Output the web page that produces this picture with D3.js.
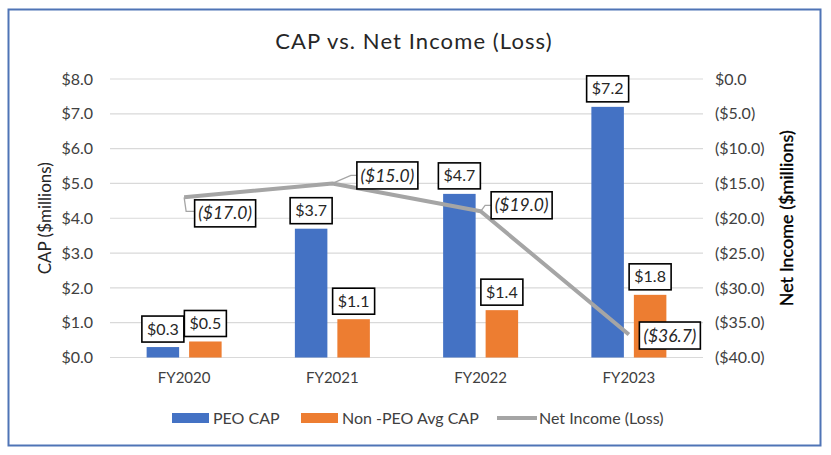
<!DOCTYPE html>
<html>
<head>
<meta charset="utf-8">
<script src="https://cdn.jsdelivr.net/npm/d3@7"></script>
<style>
  html, body { margin: 0; padding: 0; background: #fff; }
  svg { display: block; font-family: Lato, "Open Sans", sans-serif; }
</style>
</head>
<body>
<svg id="chart" width="831" height="455"></svg>
<script>
// data
const years = ["FY2020", "FY2021", "FY2022", "FY2023"];
const peoCap = [0.3, 3.7, 4.7, 7.2];
const nonPeoCap = [0.46, 1.1, 1.36, 1.8];
const netIncome = [-17.0, -15.0, -19.0, -36.7];
const capTicks = [0, 1, 2, 3, 4, 5, 6, 7, 8];
const incomeTicks = [0, -5, -10, -15, -20, -25, -30, -35, -40];
const seriesNames = ["PEO CAP", "Non -PEO Avg CAP", "Net Income (Loss)"];

const colors = { peo: "#4472C4", non: "#ED7D31", line: "#A5A5A5" };

const svg = d3.select("#chart");
const plot = { left: 110, right: 703, top: 79, bottom: 357.5 };

// outer frame
svg.append("rect")
    .attr("x", 8.5).attr("y", 9.5)
    .attr("width", 812).attr("height", 436)
    .attr("fill", "#fff")
    .attr("stroke", "#4F74B6")
    .attr("stroke-width", 2);

// title
svg.append("text")
    .attr("x", 414).attr("y", 49)
    .attr("text-anchor", "middle")
    .style("font-size", "22px")
    .style("letter-spacing", "1.1px")
    .style("fill", "#262626")
    .text("CAP vs. Net Income (Loss)");

let x = d3.scaleBand().domain(years).range([plot.left, plot.right]);
let bw = x.bandwidth();
let xs = d3.scaleBand().domain(["peo", "non"])
    .range([(bw - 75) / 2, (bw + 75) / 2])
    .paddingInner(0.235);

let yL = d3.scaleLinear().domain([0, 8]).range([plot.bottom, plot.top]);
let yR = d3.scaleLinear().domain([-40, 0]).range([plot.bottom, plot.top]);

const fmtCap = v => "$" + v.toFixed(1);
const fmtInc = v => v < 0 ? "($" + Math.abs(v).toFixed(1) + ")" : "$" + v.toFixed(1);

// gridlines
svg.append("g")
    .selectAll("line")
    .data(capTicks)
    .join("line")
    .attr("x1", plot.left).attr("x2", plot.right)
    .attr("y1", d => yL(d)).attr("y2", d => yL(d))
    .attr("stroke", "#D9D9D9")
    .attr("stroke-width", 1.2);

// left axis
const leftAxis = svg.append("g")
    .attr("transform", `translate(${plot.left},0)`)
    .call(d3.axisLeft(yL).tickValues(capTicks).tickFormat(fmtCap).tickSize(0).tickPadding(17));
leftAxis.select(".domain").remove();
leftAxis.selectAll("text").style("font-size", "16px").style("fill", "#404040").style("font-family", "Lato");

// right axis
const rightAxis = svg.append("g")
    .attr("transform", `translate(${plot.right},0)`)
    .call(d3.axisRight(yR).tickValues(incomeTicks).tickFormat(fmtInc).tickSize(0).tickPadding(12));
rightAxis.select(".domain").remove();
rightAxis.selectAll("text").style("font-size", "16px").style("fill", "#404040").style("font-family", "Lato");

// category axis
const bottomAxis = svg.append("g")
    .attr("transform", `translate(0,${plot.bottom})`)
    .call(d3.axisBottom(x).tickSize(0).tickPadding(15));
bottomAxis.select(".domain").remove();
bottomAxis.selectAll("text").style("font-size", "15px").style("fill", "#404040").style("font-family", "Lato");

// axis titles
svg.append("text")
    .attr("transform", `translate(51,${(plot.top + plot.bottom) / 2}) rotate(-90)`)
    .attr("text-anchor", "middle")
    .style("font-size", "17px")
    .style("fill", "#262626")
    .text("CAP ($millions)");

svg.append("text")
    .attr("transform", `translate(793,${(plot.top + plot.bottom) / 2}) rotate(-90)`)
    .attr("text-anchor", "middle")
    .style("font-size", "18px")
    .style("fill", "#000")
    .style("stroke", "#000")
    .style("stroke-width", 0.35)
    .text("Net Income ($millions)");

// bars
const rows = years.map((yr, i) => ({ year: yr, peo: peoCap[i], non: nonPeoCap[i], ni: netIncome[i] }));

const groups = svg.append("g")
    .selectAll("g")
    .data(rows)
    .join("g")
    .attr("transform", d => `translate(${x(d.year)},0)`);

const barData = d => [{ key: "peo", v: d.peo }, { key: "non", v: d.non }];

groups.selectAll("rect")
    .data(barData)
    .join("rect")
    .attr("x", d => xs(d.key))
    .attr("y", d => yL(d.v))
    .attr("width", xs.bandwidth())
    .attr("height", d => yL(0) - yL(d.v))
    .attr("fill", d => colors[d.key]);

// net income line
const line = d3.line()
    .x(d => x(d.year) + bw / 2)
    .y(d => yR(d.ni));

svg.append("path")
    .datum(rows)
    .attr("d", line)
    .attr("fill", "none")
    .attr("stroke", colors.line)
    .attr("stroke-width", 4)
    .attr("stroke-linejoin", "round");

// bar labels (boxed)
const barLabels = groups.selectAll("g.blabel")
    .data(barData)
    .join("g")
    .attr("class", "blabel")
    .attr("transform", d => `translate(${xs(d.key) + xs.bandwidth() / 2},${yL(d.v) - 18})`);

barLabels.append("rect")
    .attr("x", -21).attr("y", -13)
    .attr("width", 42).attr("height", 26)
    .attr("fill", "#fff")
    .attr("stroke", "#000")
    .attr("stroke-width", 1.6);

barLabels.append("text")
    .attr("dy", "0.35em")
    .attr("text-anchor", "middle")
    .style("font-size", "16px")
    .style("fill", "#262626")
    .text(d => fmtCap(d.v));

// line labels with leader lines: offsets of box centre from the point
const labelOffsets = [[41, 16], [55, -8], [41, -6], [41, 1]];

const niLabels = svg.append("g")
    .selectAll("g")
    .data(rows)
    .join("g")
    .attr("transform", d => `translate(${x(d.year) + bw / 2},${yR(d.ni)})`);

niLabels.append("path")
    .attr("d", (d, i) => {
        const [dx, dy] = labelOffsets[i];
        if (i === 3) return null;
        const bx = dx - 30.5;
        if (i === 0) return `M0,0 L2,${dy - 2} L${bx},${dy - 2}`;
        return `M0,0 L${bx - 6},${dy} L${bx},${dy}`;
    })
    .attr("fill", "none")
    .attr("stroke", colors.line)
    .attr("stroke-width", 1.3);

niLabels.append("rect")
    .attr("x", (d, i) => labelOffsets[i][0] - 30.5)
    .attr("y", (d, i) => labelOffsets[i][1] - 13.5)
    .attr("width", 61).attr("height", 27)
    .attr("fill", "#fff")
    .attr("stroke", "#000")
    .attr("stroke-width", 1.6);

niLabels.append("text")
    .attr("x", (d, i) => labelOffsets[i][0])
    .attr("y", (d, i) => labelOffsets[i][1])
    .attr("dy", "0.35em")
    .attr("text-anchor", "middle")
    .style("font-size", "17.5px")
    .style("font-style", "italic")
    .style("fill", "#262626")
    .text(d => fmtInc(d.ni));

// legend
const legendX = [172, 301, 497];
const legend = svg.append("g")
    .selectAll("g")
    .data(seriesNames)
    .join("g")
    .attr("transform", (d, i) => `translate(${legendX[i]},418)`);

legend.filter((d, i) => i < 2).append("rect")
    .attr("x", 0).attr("y", -5)
    .attr("width", 37).attr("height", 10)
    .attr("fill", (d, i) => i === 0 ? colors.peo : colors.non);

legend.filter((d, i) => i === 2).append("line")
    .attr("x1", 0).attr("x2", 40)
    .attr("stroke", colors.line)
    .attr("stroke-width", 4);

legend.append("text")
    .attr("x", (d, i) => i === 2 ? 42 : 41)
    .attr("dy", "0.35em")
    .style("font-size", "16px")
    .style("fill", "#404040")
    .text(d => d);
</script>
</body>
</html>
